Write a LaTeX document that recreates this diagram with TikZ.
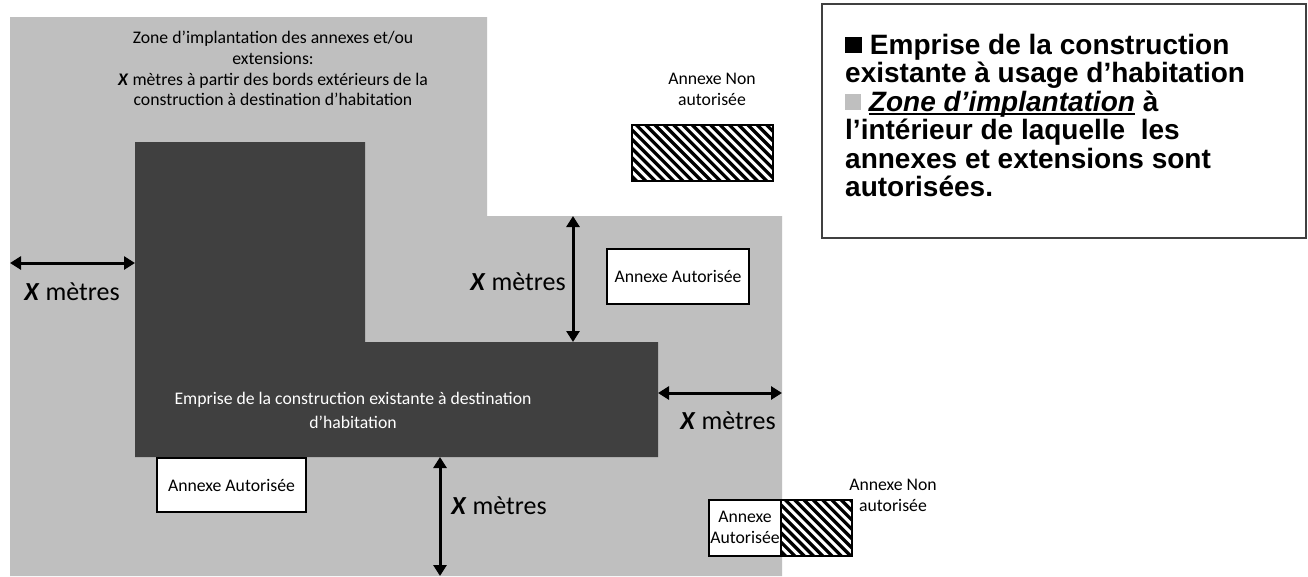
\documentclass[tikz,border=0pt]{standalone}
\usepackage{fontspec}
\setmainfont{Carlito}
\newfontfamily\arialb{Liberation Sans}
\usetikzlibrary{arrows.meta}
\definecolor{zone}{HTML}{BFBFBF}
\definecolor{bati}{HTML}{404040}
\newcommand\myul[1]{\setbox0\hbox{#1}\rlap{\rule[-3.5pt]{\wd0}{2pt}}\box0\relax}
\begin{document}
\begin{tikzpicture}[x=1pt,y=-1pt,
  small/.style={font=\fontsize{17.7}{21}\selectfont, align=center, inner sep=0},
  metres/.style={font=\fontsize{26}{30}\selectfont, inner sep=0},
  dim/.style={line width=3pt, {Triangle[length=11pt,width=13pt]}-{Triangle[length=11pt,width=13pt]}},
  annexe/.style={draw=black, line width=1.3pt, fill=white, inner sep=0},
  hatchbox/.style={draw=black, line width=1.3pt, fill=white, inner sep=0},
  hatchline/.style={line width=3.3pt, black},
  legend/.style={font=\arialb\bfseries\fontsize{28}{28.5}\selectfont, inner sep=0, anchor=base west}]
\fill[white] (0,0) rectangle (1308,576);
\useasboundingbox (0,0) rectangle (1308,576);
% zone
\fill[zone] (10,17) -- (487,17) -- (487,216) -- (782,216) -- (782,576) -- (10,576) -- cycle;
% building
\fill[bati] (135,142) -- (365,142) -- (365,342) -- (658,342) -- (658,457) -- (135,457) -- cycle;
% texts in zone
\node[small, font=\fontsize{17.7}{20.7}\selectfont] (zt) at (273,68.5) {Zone d’implantation des annexes et/ou\\extensions:\\\textbf{\textit{X}} mètres à partir des bords extérieurs de la\\construction à destination d’habitation};
\node[small, text=white, font=\fontsize{17.7}{24}\selectfont] (bt) at (353,410) {Emprise de la construction existante à destination\\d’habitation};
% dimension arrows
\coordinate (l1) at (10,263); \coordinate (l2) at (135,263);
\draw[dim] (l1) -- (l2);
\node[metres] (lm) at (72,292) {\textbf{\textit{X}} mètres};
\coordinate (t1) at (573,216); \coordinate (t2) at (573,342);
\draw[dim] (t1) -- (t2);
\node[metres] (tm) at (518,282) {\textbf{\textit{X}} mètres};
\coordinate (r1) at (658,393); \coordinate (r2) at (782,393);
\draw[dim] (r1) -- (r2);
\node[metres] (rm) at (728,421) {\textbf{\textit{X}} mètres};
\coordinate (b1) at (440,457); \coordinate (b2) at (440,576);
\draw[dim] (b1) -- (b2);
\node[metres] (bm) at (499,506) {\textbf{\textit{X}} mètres};
% annexes autorisees
\node[annexe, small, minimum width=142pt, minimum height=55pt] (aa1) at (678,276.5) {Annexe Autorisée};
\node[annexe, small, minimum width=149pt, minimum height=54pt] (aa2) at (231.5,485) {Annexe Autorisée};
\node[annexe, minimum width=72pt, minimum height=56pt] (aa3) at (745,528) {};
% hatched boxes
\node[hatchbox, minimum width=141pt, minimum height=56pt] (nh1) at (702.5,153) {};
\begin{scope}
\clip (nh1.north west) rectangle (nh1.south east);
\begin{scope}[shift={(nh1.north west)}]
\foreach \i in {-70,-60.7,...,160} \draw[hatchline] (\i,0) -- ++(80,80);
\end{scope}
\end{scope}
\draw[black, line width=1.3pt] (nh1.north west) rectangle (nh1.south east);
\node[hatchbox, minimum width=71pt, minimum height=56pt] (nh2) at (816.5,528) {};
\begin{scope}
\clip (nh2.north west) rectangle (nh2.south east);
\begin{scope}[shift={(nh2.north west)}]
\foreach \i in {-70,-60.7,...,100} \draw[hatchline] (\i,0) -- ++(80,80);
\end{scope}
\end{scope}
\draw[black, line width=1.3pt] (nh2.north west) rectangle (nh2.south east);
\node[small] (aa3t) at (745,527.5) {Annexe\\Autorisée};
\node[small] (nt1) at (712,89.5) {Annexe Non\\autorisée};
\node[small] (nt2) at (893,495.5) {Annexe Non\\autorisée};
% legend
\draw[draw=bati, line width=1.5pt] (822,4) rectangle (1306,238);
\node[legend] (leg1) at (845,54) {\rule[1pt]{17pt}{16.5pt} Emprise de la construction};
\node[legend] (leg2) at (845,82.5) {existante à usage d’habitation};
\node[legend] (leg3) at (845,111) {\textcolor{zone}{\rule[1pt]{16pt}{16pt}} \myul{\textit{Zone d’implantation}} à};
\node[legend] (leg4) at (845,139.5) {l’intérieur de laquelle\ \ les};
\node[legend] (leg5) at (845,168) {annexes et extensions sont};
\node[legend] (leg6) at (845,196.5) {autorisées.};
\end{tikzpicture}
\end{document}
